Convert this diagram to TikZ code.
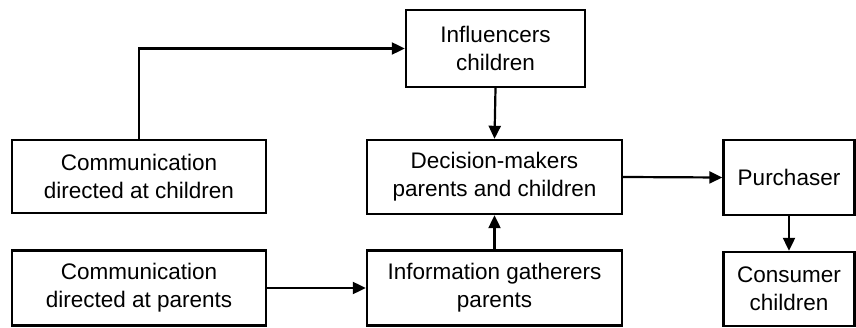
\documentclass[tikz,border=0pt]{standalone}
\usepackage{fontspec}
\setmainfont{Liberation Sans}
\usetikzlibrary{arrows.meta}
\begin{document}
\begin{tikzpicture}[x=1pt,y=-1pt,
  box/.style={draw, line width=2.4pt, align=center, inner sep=0pt,
    font=\fontsize{22.5}{28}\selectfont},
  link/.style={line width=2.2pt, -{Triangle[length=13pt,width=12pt]}}]
\useasboundingbox (0,0) rectangle (856,328);
\node[box, minimum width=254pt, minimum height=73pt] (cc) at (139,176.5) {Communication\\directed at children};
\node[box, minimum width=254pt, minimum height=75pt] (cp) at (139,288) {Communication\\directed at parents};
\node[box, minimum width=179pt, minimum height=77pt] (inf) at (495.5,48.5) {Influencers\\children};
\node[box, minimum width=255pt, minimum height=74pt] (dm) at (494.5,177) {Decision-makers\\parents and children};
\node[box, minimum width=255pt, minimum height=75pt] (ig) at (494.5,288) {Information gatherers\\parents};
\node[box, minimum width=131pt, minimum height=75pt] (pu) at (789,177.5) {Purchaser};
\node[box, minimum width=131pt, minimum height=74pt] (co) at (789,289) {Consumer\\children};
\draw[link] (cc.north) |- (inf.west);
\draw[link] (inf.south) -- (dm.north);
\draw[link] (ig.north) -- (dm.south);
\draw[link] (cp.east) -- (ig.west);
\draw[link] (dm.east) -- (pu.west);
\draw[link] (pu.south) -- (co.north);
\end{tikzpicture}
\end{document}
